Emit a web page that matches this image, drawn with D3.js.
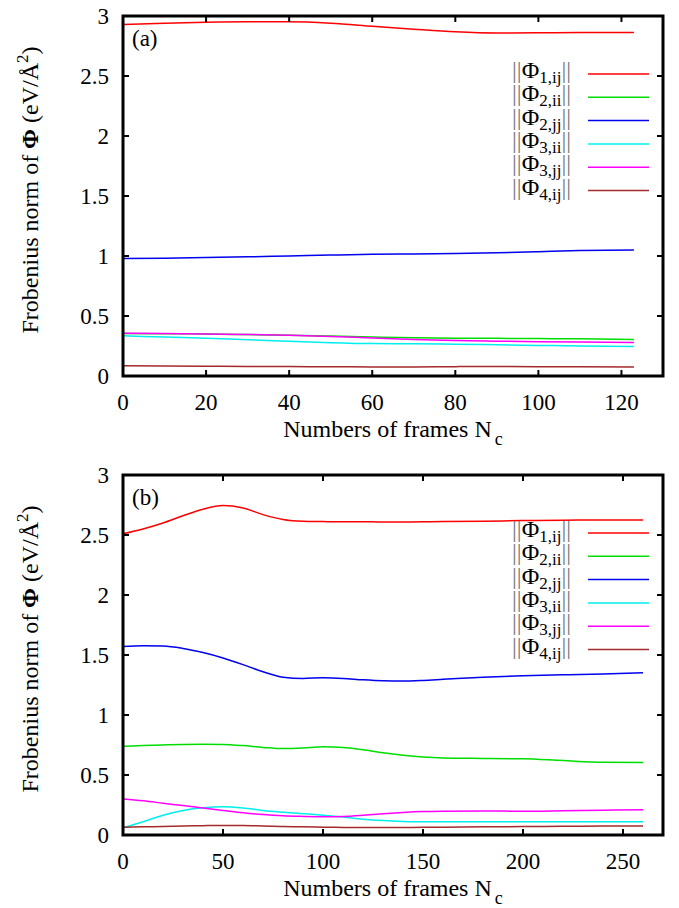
<!DOCTYPE html>
<html>
<head>
<meta charset="utf-8">
<script src="https://cdn.jsdelivr.net/npm/d3@7"></script>
<style>
  body { margin: 0; background: #fff; }
</style>
</head>
<body>
<svg id="chart" width="679" height="908"></svg>
<script>
// ---- data ----
// panel (a): frames 0..123
const framesA = [0, 10, 20, 30, 40, 50, 60, 70, 80, 90, 100, 110, 123];
const phi1ijA = [2.93, 2.94, 2.948, 2.952, 2.952, 2.94, 2.915, 2.89, 2.868, 2.858, 2.86, 2.863, 2.862];
const phi2iiA = [0.355, 0.353, 0.35, 0.345, 0.34, 0.333, 0.325, 0.318, 0.315, 0.314, 0.312, 0.31, 0.305];
const phi2jjA = [0.98, 0.982, 0.987, 0.993, 1.0, 1.008, 1.014, 1.017, 1.02, 1.027, 1.036, 1.045, 1.05];
const phi3iiA = [0.335, 0.325, 0.315, 0.302, 0.29, 0.278, 0.27, 0.268, 0.265, 0.26, 0.255, 0.25, 0.245];
const phi3jjA = [0.357, 0.355, 0.35, 0.346, 0.34, 0.33, 0.317, 0.305, 0.295, 0.29, 0.286, 0.283, 0.28];
const phi4ijA = [0.085, 0.084, 0.082, 0.08, 0.079, 0.077, 0.076, 0.076, 0.078, 0.079, 0.078, 0.077, 0.075];

// panel (b): frames 0..260
const framesB = [0, 10, 20, 30, 40, 50, 60, 70, 80, 90, 100, 110, 120, 130, 140, 150, 160, 180, 200, 220, 240, 260];
const phi1ijB = [2.51, 2.55, 2.6, 2.66, 2.715, 2.745, 2.725, 2.67, 2.63, 2.615, 2.612, 2.61, 2.61, 2.609, 2.609, 2.61, 2.612, 2.615, 2.62, 2.623, 2.625, 2.625];
const phi2iiB = [0.74, 0.745, 0.75, 0.755, 0.757, 0.755, 0.745, 0.73, 0.72, 0.725, 0.735, 0.73, 0.71, 0.685, 0.665, 0.65, 0.642, 0.638, 0.635, 0.62, 0.607, 0.605];
const phi2jjB = [1.57, 1.577, 1.575, 1.555, 1.52, 1.475, 1.42, 1.36, 1.315, 1.305, 1.31, 1.305, 1.293, 1.285, 1.283, 1.288, 1.297, 1.315, 1.328, 1.335, 1.342, 1.352];
const phi3iiB = [0.06, 0.11, 0.165, 0.205, 0.228, 0.235, 0.225, 0.205, 0.19, 0.178, 0.165, 0.15, 0.132, 0.12, 0.113, 0.11, 0.11, 0.11, 0.11, 0.11, 0.11, 0.11];
const phi3jjB = [0.30, 0.285, 0.265, 0.245, 0.225, 0.205, 0.185, 0.17, 0.16, 0.155, 0.152, 0.155, 0.165, 0.178, 0.188, 0.195, 0.198, 0.2, 0.198, 0.202, 0.207, 0.21];
const phi4ijB = [0.065, 0.068, 0.071, 0.075, 0.078, 0.08, 0.079, 0.075, 0.071, 0.068, 0.065, 0.063, 0.062, 0.062, 0.063, 0.064, 0.065, 0.068, 0.07, 0.072, 0.074, 0.075];

// legend entries: Φ index and subscript
const seriesNames = [["1", "ij"], ["2", "ii"], ["2", "jj"], ["3", "ii"], ["3", "jj"], ["4", "ij"]];
const seriesColors = ["#ff0000", "#00dd00", "#0000ee", "#00eeee", "#ff00ff", "#a52a2a"];

const yTicks = [0, 0.5, 1, 1.5, 2, 2.5, 3];
const xTicksA = [0, 20, 40, 60, 80, 100, 120];
const xTicksB = [0, 50, 100, 150, 200, 250];

const svg = d3.select("#chart");
const serif = '"Liberation Serif"';

// small helper so every text gets the serif face
function addText(parent, size) {
    return parent.append("text")
        .style("font-family", serif)
        .attr("font-size", size + "px");
}

function draw_panel(opts) {
    const left = 123, right = 663;
    const top = opts.top, bottom = opts.top + 360;

    const x = d3.scaleLinear().domain([0, opts.xMax]).range([left, right]);
    const y = d3.scaleLinear().domain([0, 3]).range([bottom, top]);

    const g = svg.append("g");

    // curves
    const line = d3.line()
        .x(d => x(d[0]))
        .y(d => y(d[1]))
        .curve(d3.curveMonotoneX);

    opts.series.forEach((vals, i) => {
        g.append("path")
            .datum(opts.frames.map((f, k) => [f, vals[k]]))
            .attr("d", line)
            .attr("fill", "none")
            .attr("stroke", seriesColors[i])
            .attr("stroke-width", 1.5);
    });

    // ticks, inward on all four sides (gnuplot mirror style)
    const tl = 6;
    opts.xTicks.forEach(t => {
        g.append("line").attr("x1", x(t)).attr("x2", x(t)).attr("y1", bottom).attr("y2", bottom - tl)
            .attr("stroke", "#000").attr("stroke-width", 2);
        g.append("line").attr("x1", x(t)).attr("x2", x(t)).attr("y1", top).attr("y2", top + tl)
            .attr("stroke", "#000").attr("stroke-width", 2);
        addText(g, 23)
            .attr("x", x(t)).attr("y", bottom + 34)
            .attr("text-anchor", "middle")
            .text(t);
    });
    yTicks.forEach(t => {
        g.append("line").attr("x1", left).attr("x2", left + tl).attr("y1", y(t)).attr("y2", y(t))
            .attr("stroke", "#000").attr("stroke-width", 2);
        g.append("line").attr("x1", right).attr("x2", right - tl).attr("y1", y(t)).attr("y2", y(t))
            .attr("stroke", "#000").attr("stroke-width", 2);
        addText(g, 23)
            .attr("x", 109).attr("y", y(t))
            .attr("dy", "0.35em")
            .attr("text-anchor", "end")
            .text(t);
    });

    // frame
    g.append("rect")
        .attr("x", left).attr("y", top)
        .attr("width", right - left).attr("height", bottom - top)
        .attr("fill", "none")
        .attr("stroke", "#000")
        .attr("stroke-width", 3);

    // panel tag
    addText(g, 23)
        .attr("x", left + 9).attr("y", top + 30)
        .text(opts.tag);

    // x title
    const xt = addText(g, 24)
        .attr("x", (left + right) / 2).attr("y", bottom + 61)
        .attr("text-anchor", "middle");
    xt.append("tspan").text("Numbers of frames N");
    xt.append("tspan").attr("dy", 8).attr("dx", 3).attr("font-size", "18px").text("c");

    // y title, rotated
    const yt = addText(g, 24)
        .attr("transform", `translate(38, ${(top + bottom) / 2 - 6}) rotate(-90)`)
        .attr("text-anchor", "middle");
    yt.append("tspan").text("Frobenius norm of  ");
    yt.append("tspan").attr("font-weight", "bold").text("Φ");
    yt.append("tspan").text(" (eV/Å");
    yt.append("tspan").attr("dy", -10).attr("font-size", "17px").text("2");
    yt.append("tspan").attr("dy", 10).text(")");

    // legend
    seriesNames.forEach((nm, i) => {
        const ly = top + 58 + i * 23.3;
        g.append("line")
            .attr("x1", 588).attr("x2", 649)
            .attr("y1", ly).attr("y2", ly)
            .attr("stroke", seriesColors[i])
            .attr("stroke-width", 1.5);
        const t = addText(g, 24)
            .attr("x", 571).attr("y", ly + 4)
            .attr("text-anchor", "end");
        t.append("tspan").attr("fill", "#777").text("||");
        t.append("tspan").text("Φ");
        t.append("tspan").attr("dy", 5).attr("font-size", "17px").text(nm[0] + "," + nm[1]);
        t.append("tspan").attr("dy", -5).attr("fill", "#777").text("||");
    });
}

draw_panel({
    top: 16, xMax: 130, tag: "(a)", frames: framesA, xTicks: xTicksA,
    series: [phi1ijA, phi2iiA, phi2jjA, phi3iiA, phi3jjA, phi4ijA]
});
draw_panel({
    top: 475, xMax: 270, tag: "(b)", frames: framesB, xTicks: xTicksB,
    series: [phi1ijB, phi2iiB, phi2jjB, phi3iiB, phi3jjB, phi4ijB]
});
</script>
</body>
</html>
